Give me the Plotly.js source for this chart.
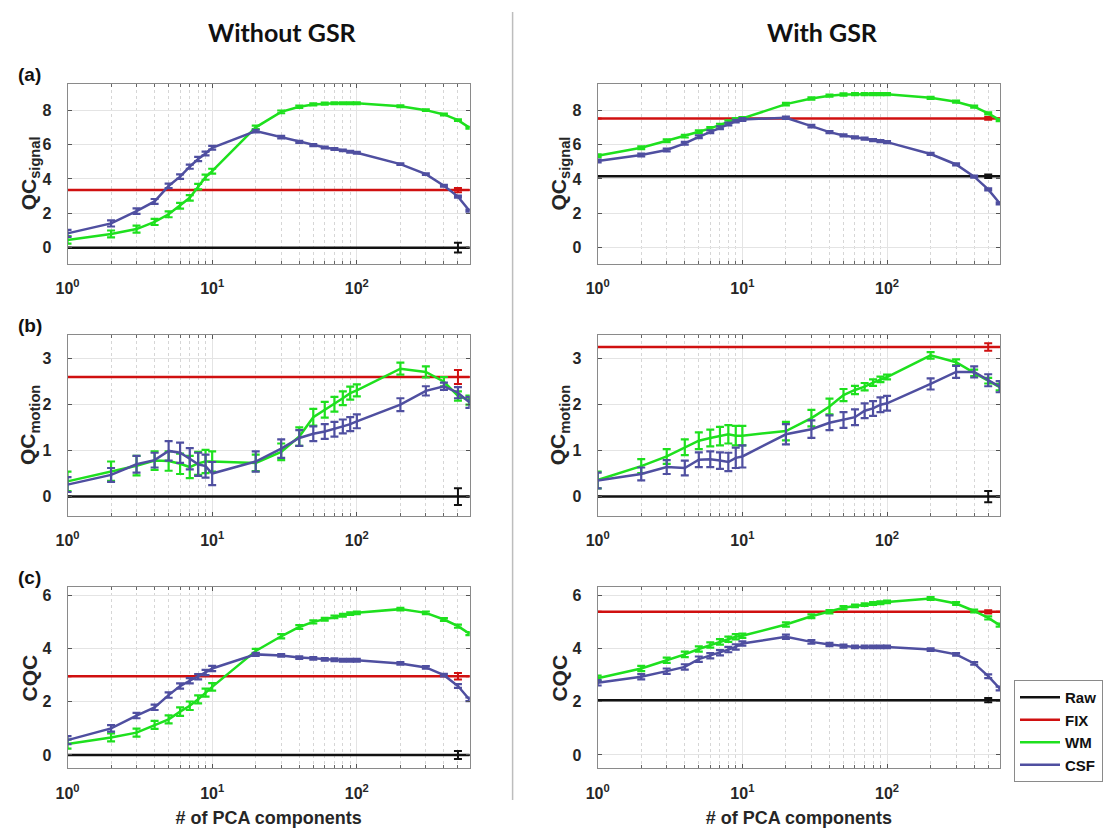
<!DOCTYPE html>
<html>
<head>
<meta charset="utf-8">
<script src="https://cdn.plot.ly/plotly-3.0.1.min.js"></script>
<style>html,body{margin:0;padding:0;background:#fff;}#chart{width:1103px;height:828px;}</style>
</head>
<body>
<div id="chart"></div>
<script>
// ---------- data ----------
const xs = [1,2,3,4,5,6,7,8,9,10,20,30,40,50,60,70,80,90,100,200,300,400,500,600];
const refX = 500; // where Raw / FIX error bars are drawn

// (a) QC_signal, without GSR
const wmSignalNo  = [0.45,0.8,1.08,1.5,1.94,2.44,2.9,3.55,4.1,4.45,7.0,7.9,8.2,8.33,8.38,8.4,8.4,8.4,8.4,8.23,8.0,7.75,7.42,6.98];
const wmSignalNoErr = [0.22,0.2,0.2,0.18,0.17,0.17,0.16,0.16,0.15,0.14,0.1,0.08,0.07,0.06,0.06,0.05,0.05,0.05,0.05,0.05,0.05,0.05,0.05,0.05];
const csfSignalNo = [0.83,1.41,2.13,2.69,3.59,4.13,4.71,5.16,5.48,5.81,6.78,6.43,6.16,5.97,5.83,5.74,5.66,5.58,5.52,4.86,4.28,3.6,2.97,2.15];
const csfSignalNoErr = [0.2,0.18,0.16,0.14,0.13,0.13,0.12,0.12,0.11,0.11,0.08,0.07,0.06,0.06,0.05,0.05,0.05,0.05,0.05,0.05,0.05,0.05,0.06,0.06];
const rawSignalNo = 0.0,  rawSignalNoErr = 0.28;
const fixSignalNo = 3.35, fixSignalNoErr = 0.12;

// (a) QC_signal, with GSR
const wmSignalGsr  = [5.35,5.81,6.22,6.49,6.74,6.94,7.13,7.33,7.46,7.52,8.35,8.68,8.84,8.91,8.93,8.93,8.93,8.93,8.93,8.72,8.49,8.2,7.81,7.42];
const wmSignalGsrErr = [0.08,0.08,0.08,0.08,0.08,0.08,0.08,0.08,0.08,0.08,0.07,0.07,0.06,0.06,0.06,0.06,0.06,0.06,0.06,0.06,0.06,0.06,0.06,0.06];
const csfSignalGsr = [5.04,5.39,5.68,6.07,6.45,6.74,6.98,7.19,7.36,7.46,7.56,7.07,6.72,6.53,6.41,6.34,6.26,6.2,6.14,5.45,4.84,4.13,3.39,2.58];
const csfSignalGsrErr = [0.08,0.08,0.08,0.08,0.08,0.08,0.08,0.08,0.08,0.08,0.07,0.07,0.06,0.06,0.06,0.06,0.06,0.06,0.06,0.06,0.06,0.06,0.06,0.06];
const rawSignalGsr = 4.15, rawSignalGsrErr = 0.1;
const fixSignalGsr = 7.52, fixSignalGsrErr = 0.08;

// (b) QC_motion, without GSR
const wmMotionNo  = [0.33,0.55,0.67,0.78,0.77,0.71,0.64,0.72,0.76,0.76,0.73,0.97,1.3,1.72,1.88,2.0,2.13,2.24,2.3,2.77,2.7,2.49,2.18,2.09];
const wmMotionNoErr = [0.21,0.21,0.21,0.2,0.21,0.22,0.24,0.25,0.25,0.22,0.18,0.18,0.2,0.18,0.17,0.16,0.15,0.14,0.13,0.13,0.12,0.1,0.1,0.1];
const csfMotionNo = [0.26,0.47,0.7,0.79,0.99,0.95,0.82,0.7,0.66,0.5,0.76,1.04,1.27,1.36,1.41,1.46,1.52,1.57,1.63,1.99,2.29,2.39,2.25,2.04];
const csfMotionNoErr = [0.16,0.15,0.18,0.16,0.21,0.22,0.23,0.25,0.25,0.25,0.22,0.2,0.17,0.16,0.16,0.16,0.15,0.15,0.15,0.14,0.1,0.08,0.12,0.12];
const rawMotionNo = 0.0,  rawMotionNoErr = 0.18;
const fixMotionNo = 2.59, fixMotionNoErr = 0.15;

// (b) QC_motion, with GSR
const wmMotionGsr  = [0.36,0.66,0.87,1.07,1.21,1.27,1.31,1.35,1.32,1.32,1.42,1.7,1.95,2.2,2.31,2.38,2.47,2.54,2.59,3.06,2.91,2.68,2.51,2.37];
const wmMotionGsrErr = [0.18,0.15,0.16,0.17,0.18,0.18,0.2,0.2,0.21,0.21,0.2,0.18,0.17,0.13,0.09,0.08,0.07,0.06,0.05,0.07,0.06,0.07,0.06,0.07];
const csfMotionGsr = [0.35,0.49,0.64,0.62,0.8,0.81,0.78,0.75,0.84,0.87,1.35,1.46,1.6,1.66,1.72,1.86,1.91,1.99,2.02,2.44,2.7,2.7,2.52,2.38];
const csfMotionGsrErr = [0.17,0.14,0.15,0.16,0.16,0.17,0.18,0.2,0.22,0.24,0.22,0.19,0.16,0.17,0.17,0.16,0.16,0.16,0.16,0.12,0.13,0.12,0.13,0.12];
const rawMotionGsr = 0.0,  rawMotionGsrErr = 0.12;
const fixMotionGsr = 3.24, fixMotionGsrErr = 0.08;

// (c) CQC, without GSR
const wmCqcNo  = [0.41,0.66,0.84,1.13,1.34,1.63,1.85,2.09,2.34,2.56,3.91,4.46,4.81,5.0,5.1,5.19,5.25,5.31,5.34,5.48,5.34,5.09,4.84,4.56];
const wmCqcNoErr = [0.17,0.15,0.15,0.15,0.15,0.16,0.16,0.15,0.15,0.14,0.08,0.08,0.07,0.06,0.05,0.05,0.05,0.05,0.05,0.05,0.05,0.05,0.06,0.06];
const csfCqcNo = [0.56,1.0,1.48,1.79,2.25,2.59,2.79,2.94,3.1,3.25,3.78,3.74,3.66,3.63,3.59,3.58,3.56,3.56,3.56,3.44,3.29,3.0,2.59,2.09];
const csfCqcNoErr = [0.15,0.12,0.1,0.1,0.1,0.1,0.1,0.1,0.1,0.1,0.06,0.05,0.05,0.05,0.05,0.05,0.05,0.05,0.05,0.05,0.05,0.05,0.07,0.07];
const rawCqcNo = 0.0,  rawCqcNoErr = 0.15;
const fixCqcNo = 2.96, fixCqcNoErr = 0.12;

// (c) CQC, with GSR
const wmCqcGsr  = [2.88,3.25,3.56,3.78,3.98,4.13,4.25,4.35,4.44,4.48,4.9,5.21,5.38,5.53,5.6,5.65,5.69,5.72,5.75,5.88,5.69,5.41,5.15,4.88];
const wmCqcGsrErr = [0.1,0.1,0.1,0.1,0.1,0.1,0.1,0.1,0.1,0.08,0.08,0.07,0.06,0.06,0.05,0.05,0.05,0.05,0.05,0.05,0.05,0.05,0.06,0.06];
const csfCqcGsr = [2.71,2.94,3.15,3.31,3.6,3.73,3.84,3.96,4.06,4.19,4.44,4.25,4.15,4.09,4.06,4.06,4.06,4.06,4.06,3.96,3.78,3.44,2.96,2.5];
const csfCqcGsrErr = [0.1,0.1,0.1,0.1,0.1,0.1,0.1,0.1,0.1,0.08,0.08,0.07,0.06,0.06,0.05,0.05,0.05,0.05,0.05,0.05,0.05,0.05,0.07,0.07];
const rawCqcGsr = 2.06, rawCqcGsrErr = 0.08;
const fixCqcGsr = 5.38, fixCqcGsrErr = 0.06;

const seriesNames = ['Raw','FIX','WM','CSF'];
const columnTitles = ['Without GSR','With GSR'];
const panelLabels = ['(a)','(b)','(c)'];
const yTitles = ['QC<sub>signal</sub>','QC<sub>motion</sub>','CQC'];
const xTitle = '# of PCA components';
const xTickVals = [1,10,100];
const xTickText = ['10<sup>0</sup>','10<sup>1</sup>','10<sup>2</sup>'];
const xMinorVals = [2,3,4,5,6,7,8,9,20,30,40,50,60,70,80,90,200,300,400,500,600];
const yTickSets = [[0,2,4,6,8],[0,1,2,3],[0,2,4,6]];
const yRanges = [[-0.95,9.55],[-0.42,3.5],[-0.5,6.3]];

// ---------- styling ----------
const W = 1103, H = 828;
const COLORS = {Raw:'#111111', FIX:'#d01010', WM:'#1ee01e', CSF:'#4f4fa0'};
const colPx = [[67.7,471],[599.3,1002.7]];
const rowPx = [[83.5,264],[335,516],[587.3,768.3]];
const AX_FONT = 'Liberation Sans, Arial, sans-serif';

const panels = [
  [ {wm:wmSignalNo, wmE:wmSignalNoErr, csf:csfSignalNo, csfE:csfSignalNoErr, raw:rawSignalNo, rawE:rawSignalNoErr, fix:fixSignalNo, fixE:fixSignalNoErr},
    {wm:wmSignalGsr, wmE:wmSignalGsrErr, csf:csfSignalGsr, csfE:csfSignalGsrErr, raw:rawSignalGsr, rawE:rawSignalGsrErr, fix:fixSignalGsr, fixE:fixSignalGsrErr} ],
  [ {wm:wmMotionNo, wmE:wmMotionNoErr, csf:csfMotionNo, csfE:csfMotionNoErr, raw:rawMotionNo, rawE:rawMotionNoErr, fix:fixMotionNo, fixE:fixMotionNoErr},
    {wm:wmMotionGsr, wmE:wmMotionGsrErr, csf:csfMotionGsr, csfE:csfMotionGsrErr, raw:rawMotionGsr, rawE:rawMotionGsrErr, fix:fixMotionGsr, fixE:fixMotionGsrErr} ],
  [ {wm:wmCqcNo, wmE:wmCqcNoErr, csf:csfCqcNo, csfE:csfCqcNoErr, raw:rawCqcNo, rawE:rawCqcNoErr, fix:fixCqcNo, fixE:fixCqcNoErr},
    {wm:wmCqcGsr, wmE:wmCqcGsrErr, csf:csfCqcGsr, csfE:csfCqcGsrErr, raw:rawCqcGsr, rawE:rawCqcGsrErr, fix:fixCqcGsr, fixE:fixCqcGsrErr} ]
];

const xEnd = 603;
const traces = [];
const layout = {
  width: W, height: H, margin:{l:0,r:0,t:0,b:0},
  paper_bgcolor:'#fff', plot_bgcolor:'#fff', showlegend:true,
  font:{family:AX_FONT, color:'#262626'},
  legend:{x:1017/W, y:1-680/H, xanchor:'left', yanchor:'top', bordercolor:'#8a8a8a', borderwidth:1,
          bgcolor:'#fff', font:{family:AX_FONT, size:15, weight:'bold', color:'#111'}, tracegroupgap:0, itemwidth:40},
  annotations:[], shapes:[]
};

function ax(i){ return i===0 ? '' : String(i+1); }

for (let r=0;r<3;r++){
  for (let c=0;c<2;c++){
    const i = r*2+c, s = ax(i), d = panels[r][c];
    const showLeg = (r===2 && c===1);
    const xa = 'x'+s, ya = 'y'+s;
    traces.push({x:[1,refX,xEnd], y:[d.raw,d.raw,d.raw], xaxis:xa, yaxis:ya, mode:'lines', name:seriesNames[0], showlegend:showLeg,
      line:{color:COLORS.Raw, width:2.5}, error_y:{type:'data', array:[0,d.rawE,0], color:COLORS.Raw, thickness:2, width:4}});
    traces.push({x:[1,refX,xEnd], y:[d.fix,d.fix,d.fix], xaxis:xa, yaxis:ya, mode:'lines', name:seriesNames[1], showlegend:showLeg,
      line:{color:COLORS.FIX, width:2.5}, error_y:{type:'data', array:[0,d.fixE,0], color:COLORS.FIX, thickness:2, width:4}});
    traces.push({x:xs, y:d.wm, xaxis:xa, yaxis:ya, mode:'lines', name:seriesNames[2], showlegend:showLeg,
      line:{color:COLORS.WM, width:2.5}, error_y:{type:'data', array:d.wmE, color:COLORS.WM, thickness:2.2, width:4}});
    traces.push({x:xs, y:d.csf, xaxis:xa, yaxis:ya, mode:'lines', name:seriesNames[3], showlegend:showLeg,
      line:{color:COLORS.CSF, width:2.5}, error_y:{type:'data', array:d.csfE, color:COLORS.CSF, thickness:2.2, width:4}});

    layout['xaxis'+s] = {
      type:'log', range:[0, Math.log10(xEnd)], domain:[colPx[c][0]/W, colPx[c][1]/W], anchor:ya,
      tickmode:'array', tickvals:xTickVals, ticktext:xTickText,
      ticks:'inside', ticklen:4, tickcolor:'#555', showline:true, linecolor:'#8a8a8a', linewidth:1, mirror:'allticks',
      showgrid:true, gridcolor:'#e4e4e4', gridwidth:1, zeroline:false,
      minor:{tickmode:'array', tickvals:xMinorVals, ticks:'inside', ticklen:3, tickcolor:'#666', showgrid:true, gridcolor:'#d6d6d6', griddash:'dot', gridwidth:1},
      tickfont:{family:AX_FONT, size:16, weight:'bold', color:'#262626'}, ticklabelstandoff:10,
      fixedrange:true
    };
    if (r===2){
      layout['xaxis'+s].title = {text:xTitle, font:{family:AX_FONT, size:18, weight:'bold', color:'#262626'}, standoff:12};
    }
    layout['yaxis'+s] = {
      range:yRanges[r], domain:[1-rowPx[r][1]/H, 1-rowPx[r][0]/H], anchor:xa,
      tickmode:'array', tickvals:yTickSets[r],
      ticks:'inside', ticklen:4, tickcolor:'#555', showline:true, linecolor:'#8a8a8a', linewidth:1, mirror:'allticks',
      showgrid:true, gridcolor:'#e4e4e4', gridwidth:1, zeroline:false,
      tickfont:{family:AX_FONT, size:16, weight:'bold', color:'#262626'}, ticklabelstandoff:12,
      fixedrange:true
    };
    layout.annotations.push({text:yTitles[r], xref:'paper', yref:'paper', x:(colPx[c][0]-38)/W, y:1-((rowPx[r][0]+rowPx[r][1])/2)/H,
      xanchor:'center', yanchor:'middle', textangle:-90, showarrow:false,
      font:{family:AX_FONT, size:21, weight:'bold', color:'#262626'}});
  }
  layout.annotations.push({text:panelLabels[r], xref:'paper', yref:'paper', x:16/W, y:1-[75,325,577][r]/H,
    xanchor:'left', yanchor:'middle', showarrow:false, font:{family:AX_FONT, size:19, weight:'bold', color:'#111'}});
}
layout.annotations.push({text:columnTitles[0], xref:'paper', yref:'paper', x:283/W, y:1-32/H, xanchor:'center', yanchor:'middle', showarrow:false,
  font:{family:'Lato, Open Sans, sans-serif', size:25, weight:'bold', color:'#111'}});
layout.annotations.push({text:columnTitles[1], xref:'paper', yref:'paper', x:825/W, y:1-32/H, xanchor:'center', yanchor:'middle', showarrow:false,
  font:{family:'Lato, Open Sans, sans-serif', size:25, weight:'bold', color:'#111'}});
layout.shapes.push({type:'line', xref:'paper', yref:'paper', x0:514/W, x1:514/W, y0:1-12/H, y1:1-800/H, line:{color:'#bdbdbd', width:1.5}});

Plotly.newPlot('chart', traces, layout, {displayModeBar:false, staticPlot:true});
</script>
</body>
</html>
